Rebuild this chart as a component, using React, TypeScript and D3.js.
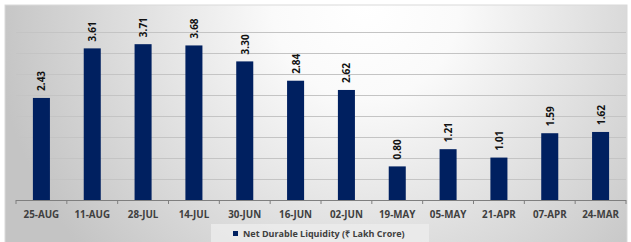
import React, { useEffect, useRef } from 'react';
import * as d3 from 'd3';

const categories = ['25-AUG', '11-AUG', '28-JUL', '14-JUL', '30-JUN', '16-JUN', '02-JUN', '19-MAY', '05-MAY', '21-APR', '07-APR', '24-MAR'];
const values = [2.43, 3.61, 3.71, 3.68, 3.30, 2.84, 2.62, 0.80, 1.21, 1.01, 1.59, 1.62];
const gridTicks = [0.5, 1, 1.5, 2, 2.5, 3, 3.5, 4];
const legendLabel = 'Net Durable Liquidity (₹ Lakh Crore)';

const W = 631;
const H = 242;

export default function App() {
  const svgRef = useRef<SVGSVGElement>(null);

  useEffect(() => {
    if (!svgRef.current) return;
    const svg = d3.select(svgRef.current);
    svg.selectAll('*').remove();

    const font = "'Open Sans', sans-serif";
    const margin = { top: 11, right: 5, bottom: 42, left: 16 };

    // background gradient
    const defs = svg.append('defs');
    const grad = defs.append('radialGradient')
      .attr('id', 'bg')
      .attr('cx', '0.58').attr('cy', '0').attr('r', '0.6')
      .attr('gradientTransform', 'translate(0.58,0) scale(1,2.6) translate(-0.58,0)');
    grad.append('stop').attr('offset', '0%').attr('stop-color', '#ffffff');
    grad.append('stop').attr('offset', '25%').attr('stop-color', '#fafafa');
    grad.append('stop').attr('offset', '100%').attr('stop-color', '#c4c4c4');

    svg.append('rect')
      .attr('x', 5).attr('y', 5)
      .attr('width', 622).attr('height', H)
      .attr('fill', 'url(#bg)')
      .attr('stroke', '#d9d9d9')
      .attr('stroke-width', 1);

    const x = d3.scaleBand<string>()
      .domain(categories)
      .range([margin.left, W - margin.right])
      .paddingInner(0.665)
      .paddingOuter(0.3325);

    const y = d3.scaleLinear()
      .domain([0, 4.5])
      .range([H - margin.bottom, margin.top]);

    // Grid lines
    svg.append('g')
      .selectAll('line')
      .data(gridTicks)
      .enter()
      .append('line')
      .attr('x1', margin.left)
      .attr('x2', W - margin.right)
      .attr('y1', (d: number) => Math.round(y(d)) + 0.5)
      .attr('y2', (d: number) => Math.round(y(d)) + 0.5)
      .attr('stroke', '#c4c4c4')
      .attr('stroke-width', 1);

    // Bars
    svg.append('g')
      .selectAll('rect')
      .data(values)
      .enter()
      .append('rect')
      .attr('x', (_d: number, i: number) => x(categories[i]) as number)
      .attr('y', (d: number) => y(d))
      .attr('width', x.bandwidth())
      .attr('height', (d: number) => y(0) - y(d))
      .attr('fill', '#002060');

    // Value labels
    svg.append('g')
      .selectAll('text')
      .data(values)
      .enter()
      .append('text')
      .attr('transform', (d: number, i: number) => {
        const cx = (x(categories[i]) as number) + x.bandwidth() / 2;
        return `translate(${cx + 4},${y(d) - 7}) rotate(-90)`;
      })
      .attr('font-family', font)
      .attr('font-size', '10px')
      .attr('font-weight', 'bold')
      .attr('fill', '#111')
      .text((d: number) => d.toFixed(2));

    // X axis
    const step = x.step();
    const axis = svg.append('g');
    axis.append('line')
      .attr('x1', margin.left).attr('x2', W - margin.right)
      .attr('y1', y(0) + 0.5).attr('y2', y(0) + 0.5)
      .attr('stroke', '#7f7f7f');
    axis.selectAll('line.tick')
      .data(d3.range(categories.length + 1))
      .enter()
      .append('line')
      .attr('class', 'tick')
      .attr('x1', (i: number) => margin.left + i * step)
      .attr('x2', (i: number) => margin.left + i * step)
      .attr('y1', y(0))
      .attr('y2', y(0) + 4)
      .attr('stroke', '#7f7f7f');
    axis.selectAll('text')
      .data(categories)
      .enter()
      .append('text')
      .attr('x', (d: string) => (x(d) as number) + x.bandwidth() / 2)
      .attr('y', y(0) + 18)
      .attr('text-anchor', 'middle')
      .attr('font-family', font)
      .attr('font-size', '9.8px')
      .attr('font-weight', 'bold')
      .attr('fill', '#404040')
      .text((d: string) => d);

    // Legend
    const lg = svg.append('g');
    lg.append('rect')
      .attr('x', 211).attr('y', 224)
      .attr('width', 218).attr('height', 20)
      .attr('fill', '#ececec')
      .attr('opacity', 0.8);
    lg.append('rect')
      .attr('x', 233).attr('y', 231)
      .attr('width', 5).attr('height', 5)
      .attr('fill', '#002060');
    lg.append('text')
      .attr('x', 243).attr('y', 237)
      .attr('font-family', font)
      .attr('font-size', '9px')
      .attr('font-weight', 'bold')
      .attr('fill', '#404040')
      .text(legendLabel);
  }, []);

  return (
    <svg
      ref={svgRef}
      width={W}
      height={H}
      style={{ position: 'absolute', left: 0, top: 0, background: '#fff' }}
    />
  );
}
